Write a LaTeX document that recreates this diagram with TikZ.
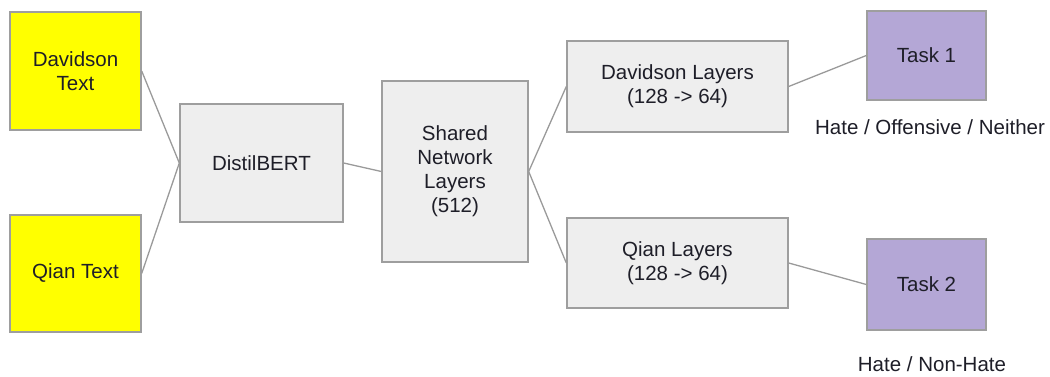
\documentclass[tikz,border=0pt]{standalone}
\usepackage{fontspec}
\setmainfont{Liberation Sans}
\definecolor{boxline}{HTML}{9E9E9E}
\definecolor{linkline}{HTML}{9A9A9A}
\definecolor{inputfill}{HTML}{FFFF00}
\definecolor{layerfill}{HTML}{EEEEEE}
\definecolor{taskfill}{HTML}{B4A7D6}
\definecolor{txt}{HTML}{1E1E28}
\begin{document}
\begin{tikzpicture}[x=1pt,y=-1pt,
  box/.style={draw=boxline,line width=1.4pt,rectangle,inner sep=0pt,
    align=center,text=txt,font=\fontsize{20.5}{24}\selectfont},
  inbox/.style={box,fill=inputfill},
  layerbox/.style={box,fill=layerfill},
  taskbox/.style={box,fill=taskfill},
  caption/.style={text=txt,font=\fontsize{20.5}{24}\selectfont,inner sep=0pt},
  link/.style={draw=linkline,line width=1.3pt}]
\useasboundingbox (0,0) rectangle (1050,377);
% inputs
\node[inbox,minimum width=131pt,minimum height=118pt] (dtext) at (75.5,71) {Davidson\\Text};
\node[inbox,minimum width=131pt,minimum height=117pt] (qtext) at (75.5,273.5) {Qian Text};
% encoder and shared trunk
\node[layerbox,minimum width=163pt,minimum height=118pt] (distil) at (261.5,163) {DistilBERT};
\node[layerbox,minimum width=146pt,minimum height=181pt] (shared) at (455,171.5) {Shared\\Network\\Layers\\(512)};
% task-specific heads
\node[layerbox,minimum width=221pt,minimum height=91pt] (dlayers) at (677.5,86.5) {Davidson Layers\\(128 -> 64)};
\node[layerbox,minimum width=221pt,minimum height=90pt] (qlayers) at (677.5,263) {Qian Layers\\(128 -> 64)};
% outputs
\node[taskbox,minimum width=119pt,minimum height=89pt] (task1) at (926.5,55.5) {Task 1};
\node[taskbox,minimum width=119pt,minimum height=91pt] (task2) at (926.5,284.5) {Task 2};
\node[caption] (cap1) at (930,127) {Hate / Offensive / Neither};
\node[caption] (cap2) at (932,364) {Hate / Non-Hate};
% connections
\draw[link] (dtext.east) -- (distil.west);
\draw[link] (qtext.east) -- (distil.west);
\draw[link] (distil.east) -- (shared.west);
\draw[link] (shared.east) -- (dlayers.west);
\draw[link] (shared.east) -- (qlayers.west);
\draw[link] (dlayers.east) -- (task1.west);
\draw[link] (qlayers.east) -- (task2.west);
\end{tikzpicture}
\end{document}
